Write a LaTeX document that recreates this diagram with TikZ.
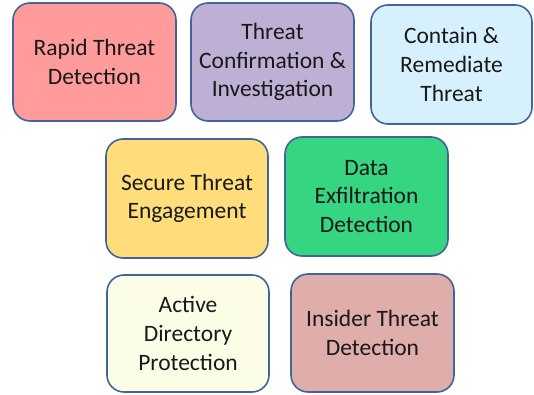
\documentclass[tikz,border=0pt]{standalone}
\usepackage{fontspec}
\setmainfont{Carlito}
\definecolor{bordc}{HTML}{41649E}
\definecolor{c1}{HTML}{FF9B9B}
\definecolor{c2}{HTML}{BEB0D4}
\definecolor{c3}{HTML}{D6F1FD}
\definecolor{c4}{HTML}{FFDD7B}
\definecolor{c5}{HTML}{36D581}
\definecolor{c6}{HTML}{FBFDE6}
\definecolor{c7}{HTML}{DFADAA}
\tikzset{
  card/.style={draw=bordc, line width=1.6pt, rounded corners=17pt, align=center,
    font=\fontsize{23.5}{28.7}\selectfont, inner sep=0pt, text=black!90},
}
\newcommand{\cardnode}[7]{%
  \node[card, fill=#2, minimum width={(#5-#3)*1pt}, minimum height={(#6-#4)*1pt}]
    (#1) at ({(#3+#5)/2*1pt},{(394-(#4+#6)/2)*1pt}) {#7};}
\begin{document}
\begin{tikzpicture}
\useasboundingbox (0,0) rectangle (534pt,394pt);
\cardnode{rtd}{c1}{13}{3}{176}{121}{Rapid Threat\\Detection}
\cardnode{tci}{c2}{191}{3}{354}{121}{Threat\\Confirmation \&\\Investigation}
\cardnode{crt}{c3}{371}{5}{532}{124}{Contain \&\\Remediate\\Threat}
\cardnode{ste}{c4}{106}{139}{268}{258}{Secure Threat\\Engagement}
\cardnode{ded}{c5}{285}{137}{448}{256}{Data\\Exfiltration\\Detection}
\cardnode{adp}{c6}{107}{275}{269}{392}{Active\\Directory\\Protection}
\cardnode{itd}{c7}{291}{274}{454}{392}{Insider Threat\\Detection}
\end{tikzpicture}
\end{document}
